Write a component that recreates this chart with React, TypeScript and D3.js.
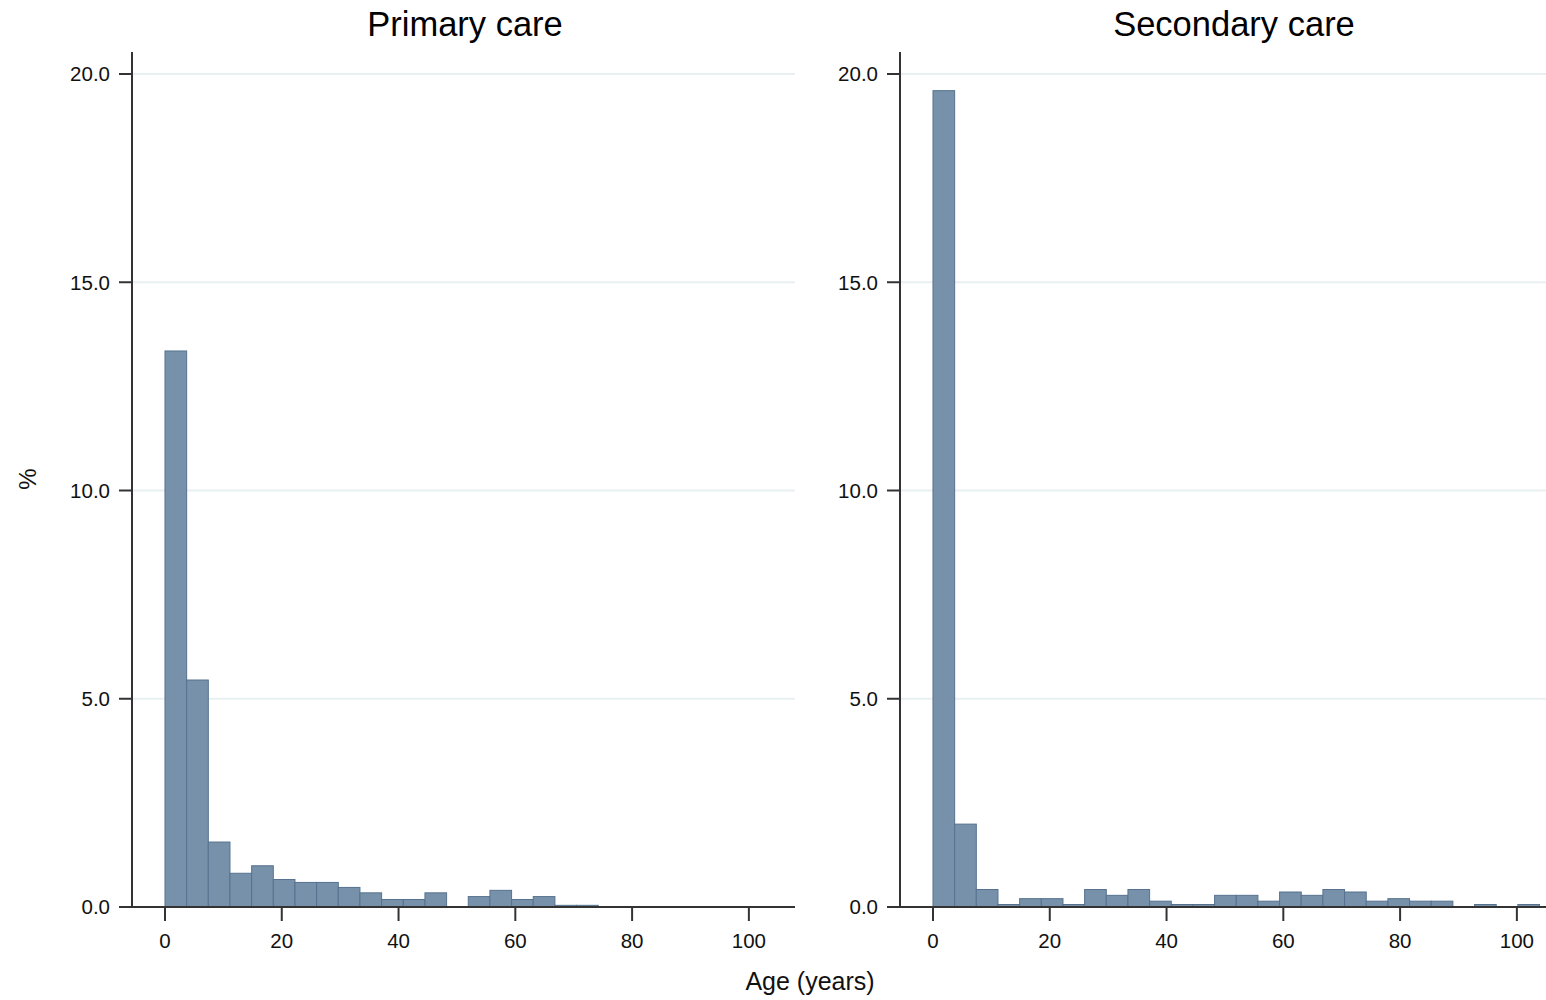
import React from "react";
import * as d3 from "d3";

// Histogram bin heights (%), bins of equal width starting at age 0
const binWidth = 3.71;
const primaryCare = [13.35, 5.45, 1.56, 0.81, 0.99, 0.66, 0.59, 0.59, 0.47, 0.34, 0.18, 0.18, 0.34, 0, 0.25, 0.4, 0.18, 0.25, 0.04, 0.04];
const secondaryCare = [19.6, 1.99, 0.42, 0.06, 0.2, 0.2, 0.06, 0.42, 0.28, 0.42, 0.14, 0.06, 0.06, 0.28, 0.28, 0.14, 0.36, 0.28, 0.42, 0.36, 0.14, 0.2, 0.14, 0.14, 0, 0.06, 0, 0.06];
const panelTitles = ["Primary care", "Secondary care"];
const xTicks = [0, 20, 40, 60, 80, 100];
const yTicks = [0, 5, 10, 15, 20];
const xLabel = "Age (years)";
const yLabel = "%";

const W = 1546;
const H = 1000;
const FONT = "'Liberation Sans', Arial, Helvetica, sans-serif";
const panelLefts = [132, 900];
const titleCenters = [465, 1234];
const panelWidth = 663;
const xDomain: [number, number] = [-5.65, 107.9];
const baseY = 907;
const topY = 52;

const y = d3.scaleLinear().domain([0, 20]).range([baseY, 74]);

function Panel({ left, title, titleX, values }: { left: number; title: string; titleX: number; values: number[] }) {
  const x = d3.scaleLinear().domain(xDomain).range([left, left + panelWidth]);
  return (
    <g>
      {yTicks.map((t) => (
        <line key={"g" + t} x1={left} x2={left + panelWidth} y1={y(t)} y2={y(t)} stroke="#e8f0f2" strokeWidth={2} />
      ))}
      {values.map((v, i) =>
        v > 0 ? (
          <rect
            key={i}
            x={x(i * binWidth)}
            y={y(v)}
            width={x((i + 1) * binWidth) - x(i * binWidth)}
            height={baseY - y(v)}
            fill="#7891aa"
            stroke="#56728f"
            strokeWidth={1}
          />
        ) : null
      )}
      <line x1={left} x2={left} y1={topY} y2={baseY} stroke="#333" strokeWidth={2} />
      <line x1={left} x2={left + panelWidth} y1={baseY} y2={baseY} stroke="#333" strokeWidth={2} />
      {yTicks.map((t) => (
        <g key={"y" + t}>
          <line x1={left - 13} x2={left} y1={y(t)} y2={y(t)} stroke="#333" strokeWidth={2} />
          <text x={left - 22} y={y(t)} dy="0.36em" textAnchor="end" fontSize={20.5} fontFamily={FONT} fill="#111">
            {t.toFixed(1)}
          </text>
        </g>
      ))}
      {xTicks.map((t) => (
        <g key={"x" + t}>
          <line x1={x(t)} x2={x(t)} y1={baseY} y2={baseY + 14} stroke="#333" strokeWidth={2} />
          <text x={x(t)} y={948} textAnchor="middle" fontSize={20.5} fontFamily={FONT} fill="#111">
            {t}
          </text>
        </g>
      ))}
      <text x={titleX} y={36} textAnchor="middle" fontSize={34.5} fontFamily={FONT} fill="#000">
        {title}
      </text>
    </g>
  );
}

export default function App() {
  return (
    <svg width={W} height={H} style={{ position: "absolute", left: 0, top: 0, background: "#fff" }}>
      <rect x={0} y={0} width={W} height={H} fill="#fff" />
      <Panel left={panelLefts[0]} title={panelTitles[0]} titleX={titleCenters[0]} values={primaryCare} />
      <Panel left={panelLefts[1]} title={panelTitles[1]} titleX={titleCenters[1]} values={secondaryCare} />
      <text x={810} y={990} textAnchor="middle" fontSize={25} fontFamily={FONT} fill="#111">
        {xLabel}
      </text>
      <text transform="translate(36,479) rotate(-90)" textAnchor="middle" fontSize={24} fontFamily={FONT} fill="#111">
        {yLabel}
      </text>
    </svg>
  );
}
